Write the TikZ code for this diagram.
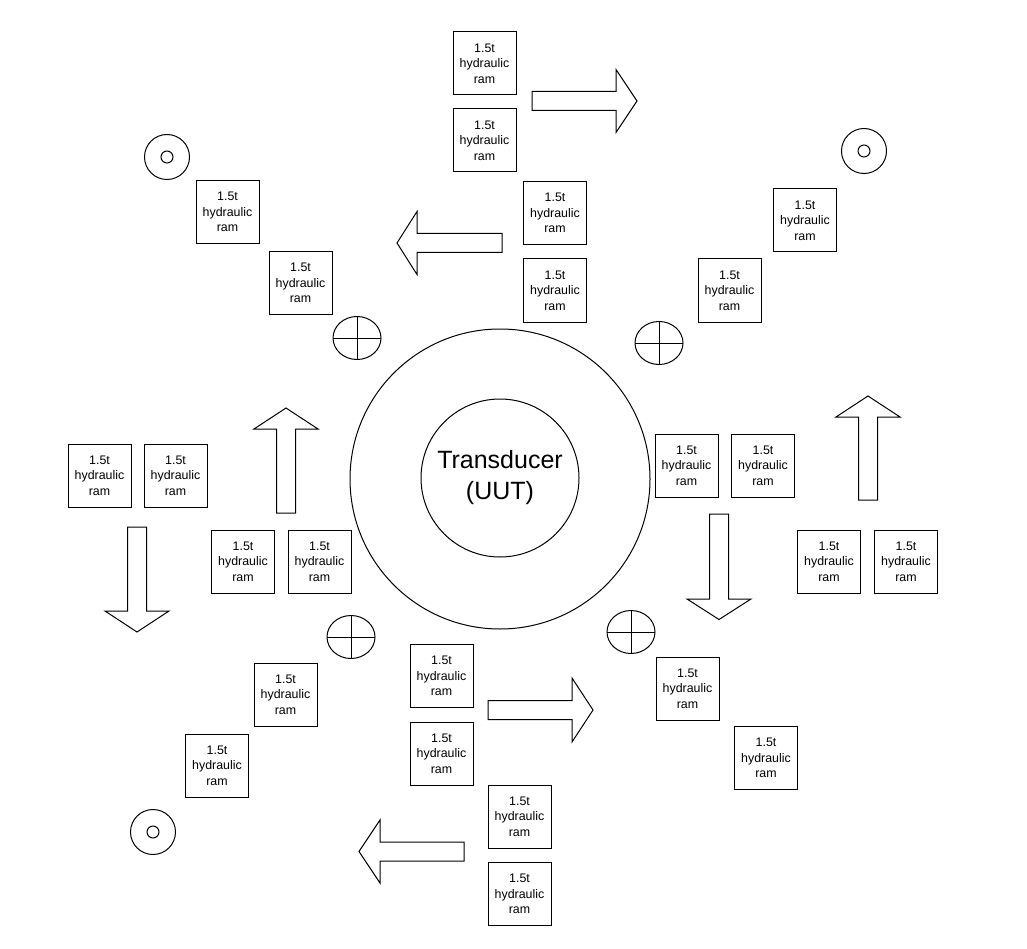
\documentclass[tikz,border=0pt]{standalone}
\usepackage{fontspec}
\setmainfont{Liberation Sans}
\begin{document}
\begin{tikzpicture}[x=1pt,y=-1pt,line width=1pt,
  ram/.style={draw, minimum width=63pt, minimum height=63pt, inner sep=0pt, align=center,
    font=\fontsize{12.4}{15.6}\selectfont},
  fatarrow/.style={draw, fill=white, line join=miter}]
\useasboundingbox (0,0) rectangle (1027,949);
\fill[white] (0,0) rectangle (1027,949);

% central transducer
\node[draw, circle, minimum size=300pt, inner sep=0pt] (outer) at (500,479) {};
\node[draw, circle, minimum size=158pt, inner sep=0pt, align=center,
  font=\fontsize{25}{31}\selectfont] (uut) at (500,478) {Transducer\\(UUT)};

% rams
\newcommand{\ramtext}{1.5t\\hydraulic\\ram}
\node[ram] (t1) at (484.5,63.5) {\ramtext};
\node[ram] (t2) at (484.5,140.5) {\ramtext};
\node[ram] (t3) at (555,213) {\ramtext};
\node[ram] (t4) at (555,290.5) {\ramtext};
\node[ram] (tl1) at (227.5,212) {\ramtext};
\node[ram] (tl2) at (300.5,283) {\ramtext};
\node[ram] (tr1) at (805,220.5) {\ramtext};
\node[ram] (tr2) at (729.5,290.5) {\ramtext};
\node[ram] (l1) at (99.5,475.5) {\ramtext};
\node[ram] (l2) at (175.5,475.5) {\ramtext};
\node[ram] (l3) at (243,561.5) {\ramtext};
\node[ram] (l4) at (319.5,561.5) {\ramtext};
\node[ram] (r1) at (686.5,465.5) {\ramtext};
\node[ram] (r2) at (763,465.5) {\ramtext};
\node[ram] (r3) at (829,561.5) {\ramtext};
\node[ram] (r4) at (906,561.5) {\ramtext};
\node[ram] (bl1) at (285.5,694.5) {\ramtext};
\node[ram] (bl2) at (217,765.5) {\ramtext};
\node[ram] (b1) at (441.5,676) {\ramtext};
\node[ram] (b2) at (441.5,753.5) {\ramtext};
\node[ram] (b3) at (519.5,816.5) {\ramtext};
\node[ram] (b4) at (519.5,894) {\ramtext};
\node[ram] (br1) at (687.5,688.5) {\ramtext};
\node[ram] (br2) at (766,758) {\ramtext};

% block arrows
\draw[fatarrow] (532,91.5) -- (616,91.5) -- (616,69.5) -- (637,101) -- (616,132.5) -- (616,110.5) -- (532,110.5) -- cycle;
\draw[fatarrow] (502,233.5) -- (417,233.5) -- (417,211.5) -- (397,243) -- (417,274.5) -- (417,252.5) -- (502,252.5) -- cycle;
\draw[fatarrow] (127.5,527) -- (127.5,611) -- (105,611) -- (137,632) -- (169,611) -- (146.5,611) -- (146.5,527) -- cycle;
\draw[fatarrow] (276.5,513) -- (276.5,429) -- (254,429) -- (286,408) -- (318,429) -- (295.5,429) -- (295.5,513) -- cycle;
\draw[fatarrow] (709.5,514) -- (709.5,599) -- (687,599) -- (719,619.5) -- (751,599) -- (728.5,599) -- (728.5,514) -- cycle;
\draw[fatarrow] (858.5,500) -- (858.5,417) -- (836,417) -- (868,396) -- (900,417) -- (877.5,417) -- (877.5,500) -- cycle;
\draw[fatarrow] (488,700.5) -- (572,700.5) -- (572,678) -- (593,710) -- (572,742) -- (572,719.5) -- (488,719.5) -- cycle;
\draw[fatarrow] (464,842) -- (380,842) -- (380,820) -- (359,851.5) -- (380,883) -- (380,861) -- (464,861) -- cycle;

% circle-dot markers
\foreach \n/\px/\py in {cd1/167/157, cd2/864/151, cd3/153/832} {
  \node[draw, circle, minimum size=45pt, inner sep=0pt] (\n) at (\px,\py) {};
  \node[draw, circle, minimum size=12pt, inner sep=0pt] (\n-in) at (\px,\py) {};
}

% crossed ellipses
\foreach \n/\px/\py in {ce1/357/338, ce2/659/343, ce3/351/637, ce4/631/632} {
  \draw (\px,\py) ellipse [x radius=24, y radius=21.5];
  \draw (\px-24,\py) -- (\px+24,\py);
  \draw (\px,\py-21.5) -- (\px,\py+21.5);
}
\end{tikzpicture}
\end{document}
